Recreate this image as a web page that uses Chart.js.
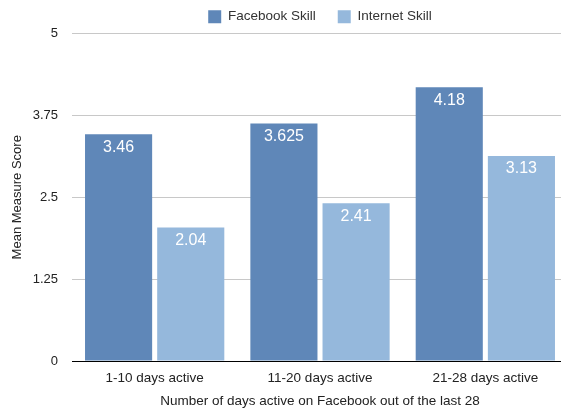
<!DOCTYPE html>
<html><head><meta charset="utf-8">
<script src="https://cdn.jsdelivr.net/npm/chart.js@4"></script>
<style>html,body{margin:0;padding:0;overflow:hidden;background:#fff}#wrap{width:568px;height:409px;position:relative}</style>
</head><body><div id="wrap"><canvas id="c"></canvas></div>
<script>
const categories = ["1-10 days active", "11-20 days active", "21-28 days active"];
const facebookSkill = [3.46, 3.625, 4.18];
const internetSkill = [2.04, 2.41, 3.13];
const yTicks = [0, 1.25, 2.5, 3.75, 5];
const FONT = "'Liberation Sans', Arial, Helvetica, sans-serif";

const valueLabels = {
  id: 'valueLabels',
  afterDatasetsDraw(chart) {
    const ctx = chart.ctx;
    ctx.save();
    ctx.font = '16px ' + FONT;
    ctx.fillStyle = '#ffffff';
    ctx.textAlign = 'center';
    ctx.textBaseline = 'middle';
    chart.data.datasets.forEach((ds, di) => {
      chart.getDatasetMeta(di).data.forEach((bar, i) => {
        ctx.fillText(String(ds.data[i]), bar.x, bar.y + 13);
      });
    });
    ctx.restore();
  }
};

new Chart(document.getElementById('c'), {
  type: 'bar',
  data: {
    labels: categories,
    datasets: [
      { label: 'Facebook Skill', data: facebookSkill, backgroundColor: '#5F87B8' },
      { label: 'Internet Skill', data: internetSkill, backgroundColor: '#95B8DC' }
    ]
  },
  plugins: [valueLabels],
  options: {
    responsive: true,
    maintainAspectRatio: false,
    animation: false,
    categoryPercentage: 0.873,
    barPercentage: 0.93,
    layout: { padding: { top: -12, right: 0, bottom: 0, left: 0 } },
    plugins: {
      tooltip: { enabled: false },
      legend: {
        fullSize: false,
        labels: { font: { family: FONT, size: 13.5 }, color: '#333', boxWidth: 13, boxHeight: 13, padding: 22 }
      }
    },
    scales: {
      x: {
        grid: { display: false, drawTicks: false },
        border: { display: true, color: '#000', width: 1 },
        ticks: { font: { family: FONT, size: 13.5 }, color: '#222', padding: 9 },
        title: { display: true, text: 'Number of days active on Facebook out of the last 28', font: { family: FONT, size: 13.5 }, color: '#222', padding: { top: 0, bottom: 0 } },
        afterFit(s) { s.height = 48; }
      },
      y: {
        min: 0, max: 5,
        afterBuildTicks(s) { s.ticks = yTicks.map(v => ({ value: v })); },
        grid: { color: '#c8c8c8', drawTicks: false },
        border: { display: false },
        ticks: { font: { family: FONT, size: 13 }, color: '#222', padding: 14, callback: v => String(v) },
        title: { display: true, text: 'Mean Measure Score', font: { family: FONT, size: 13 }, color: '#222', padding: { top: 10, bottom: 4 } },
        afterFit(s) { s.width = 72; }
      }
    }
  }
});
</script></body></html>
